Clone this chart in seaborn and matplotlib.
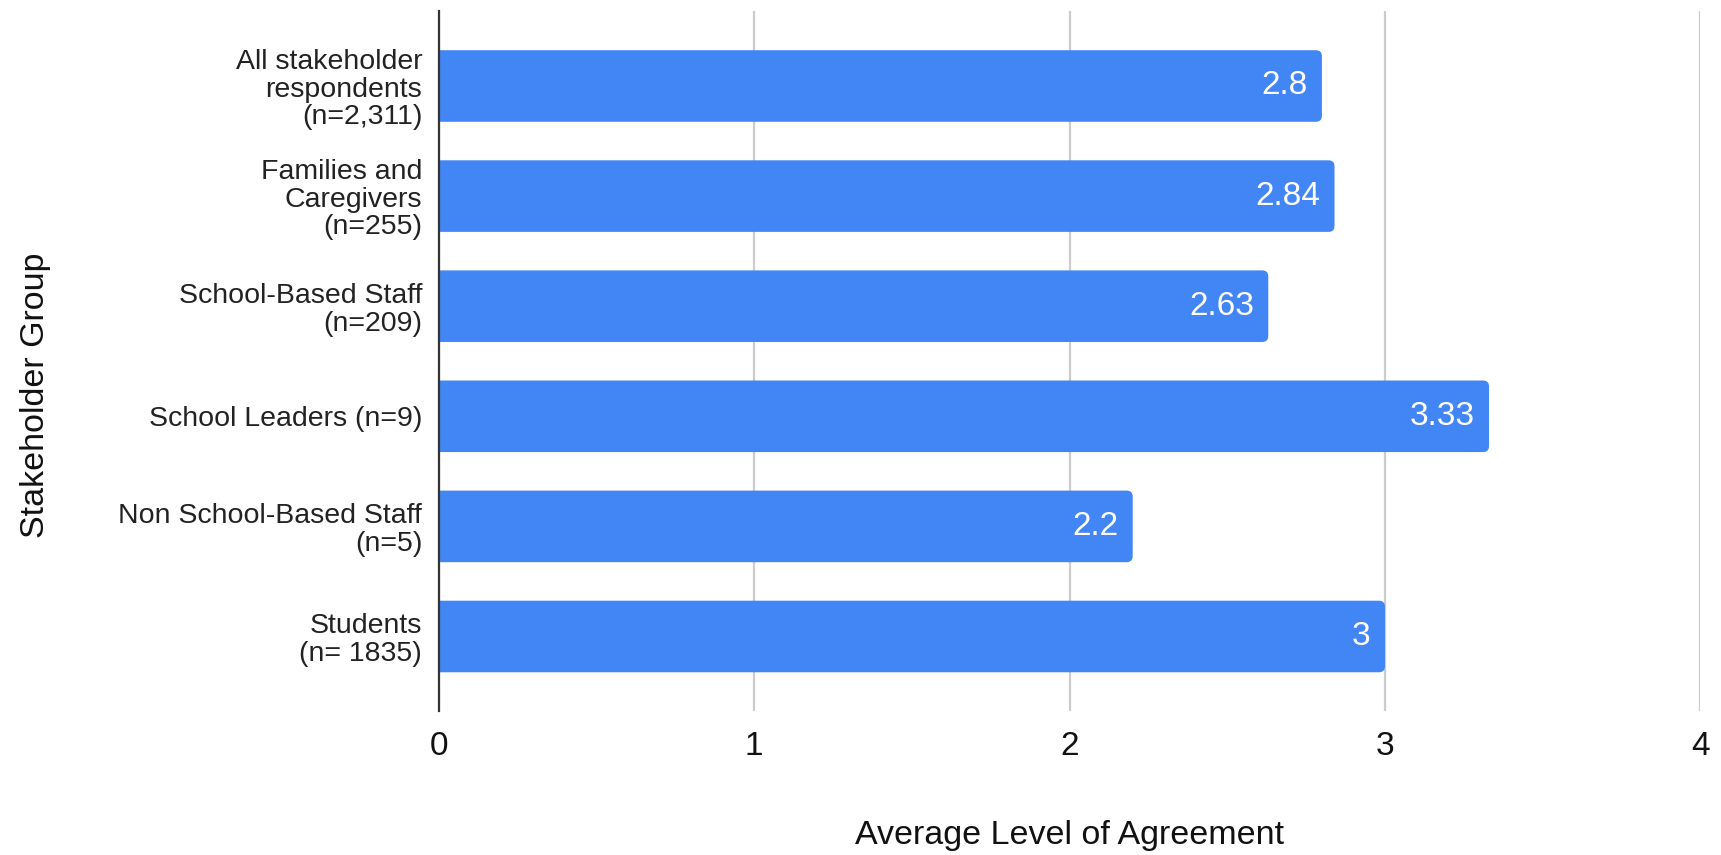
import matplotlib
matplotlib.use("Agg")
import matplotlib.pyplot as plt
from matplotlib.patches import FancyBboxPatch
import seaborn as sns
import pandas as pd

groups = [
    "All stakeholder\nrespondents\n(n=2,311)",
    "Families and\nCaregivers\n(n=255)",
    "School-Based Staff\n(n=209)",
    "School Leaders (n=9)",
    "Non School-Based Staff\n(n=5)",
    "Students\n(n= 1835)",
]
values = [2.8, 2.84, 2.63, 3.33, 2.2, 3]
value_labels = ["2.8", "2.84", "2.63", "3.33", "2.2", "3"]
x_ticks = [0, 1, 2, 3, 4]

sns.set_theme(style="white")
plt.rcParams["font.family"] = ["Liberation Sans", "DejaVu Sans"]

df = pd.DataFrame({"group": groups, "value": values})

fig = plt.figure(figsize=(17.21, 8.55), dpi=100)
ax = fig.add_axes([0.255, 0.168, 0.733, 0.819])

sns.barplot(data=df, x="value", y="group", orient="h", color="#4285F4",
            saturation=1, width=0.65, ax=ax)

ax.set_xlim(0, 4)
ax.set_ylim(5.68, -0.68)

# rounded right-hand corners, derived from seaborn's bar patches
bbox = ax.get_window_extent()
px_per_x = bbox.width / 4.0
px_per_y = bbox.height / 6.36
aspect = px_per_x / px_per_y
r = 6.0 / px_per_x
for patch, lab in zip(list(ax.patches), value_labels):
    x0, y0 = patch.get_x(), patch.get_y()
    w, h = patch.get_width(), patch.get_height()
    patch.set_visible(False)
    rb = FancyBboxPatch((x0 - 0.1, y0), w + 0.1, h,
                        boxstyle=f"round,pad=0,rounding_size={r}",
                        mutation_aspect=aspect,
                        facecolor="#4285F4", edgecolor="none", zorder=2)
    ax.add_patch(rb)
    ax.text(x0 + w - 0.045, y0 + h / 2, lab, ha="right", va="center",
            color="white", fontsize=24, zorder=3)

ax.set_xticks(x_ticks)
ax.set_xticklabels([str(t) for t in x_ticks], fontsize=24, color="#111111")
ax.tick_params(axis="x", length=0, pad=14)
ax.tick_params(axis="y", length=0, pad=12, labelsize=20.5, labelcolor="#222222")
for lab in ax.get_yticklabels():
    lab.set_linespacing(1.08)

ax.xaxis.grid(True, color="#cccccc", linewidth=1.6)
ax.set_axisbelow(True)
for s in ["top", "right", "bottom"]:
    ax.spines[s].set_visible(False)
ax.spines["left"].set_color("#333333")
ax.spines["left"].set_linewidth(1.6)
ax.spines["left"].set_zorder(4)

ax.set_xlabel("Average Level of Agreement", fontsize=24.5, color="#111111")
ax.set_ylabel("Stakeholder Group", fontsize=24.5, color="#111111")
ax.xaxis.set_label_coords(0.5, -0.177)
ax.yaxis.set_label_coords(-0.32, 0.452)
ax.xaxis.label.set_va("center")
ax.yaxis.label.set_va("center")

fig.savefig("out.png", dpi=100, facecolor="white")
